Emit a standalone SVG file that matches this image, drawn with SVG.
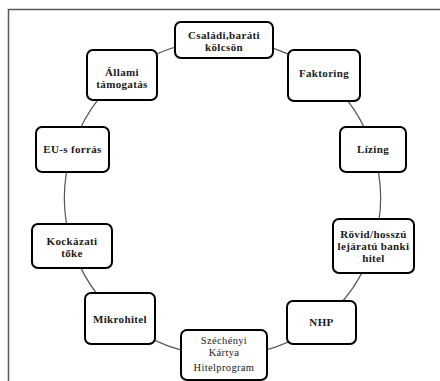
<svg xmlns="http://www.w3.org/2000/svg" width="440" height="381" viewBox="0 0 440 381">
<style>
.frame{fill:none;stroke:#5a5a5a;stroke-width:1.5}
.box{fill:#fff;stroke:#000;stroke-width:2}
.con{fill:none;stroke:#555;stroke-width:1.2}
text{font-family:"Liberation Serif","Times New Roman",serif;font-size:11px;font-weight:bold;fill:#1a1a1a;text-anchor:middle;letter-spacing:0.35px}
text.n{font-weight:normal;font-size:10.5px}
</style>
<rect width="440" height="381" fill="#fff"/>
<path class="frame" d="M8.5,381 V9.5 H440"/>
<g id="connectors">
<path class="con" d="M224,40.5 A157.5,157.5 0 0 1 324,76"/>
<path class="con" d="M324,76 A157.5,157.5 0 0 1 373,150"/>
<path class="con" d="M373,150 A157.5,157.5 0 0 1 373,246"/>
<path class="con" d="M373,246 A157.5,157.5 0 0 1 321,322"/>
<path class="con" d="M321,322 A157.5,157.5 0 0 1 224,355.5"/>
<path class="con" d="M224,355.5 A157.5,157.5 0 0 1 120,318"/>
<path class="con" d="M120,318 A157.5,157.5 0 0 1 72,246"/>
<path class="con" d="M72,246 A157.5,157.5 0 0 1 72,150"/>
<path class="con" d="M72,150 A157.5,157.5 0 0 1 122,75"/>
<path class="con" d="M122,75 A157.5,157.5 0 0 1 224,40.5"/>
</g>
<g id="csaladi">
<rect class="box" x="175" y="22" width="98" height="36" rx="6"/>
<text x="224" y="39">Családi,baráti</text>
<text x="224" y="50.5">kölcsön</text>
</g>
<g id="faktoring">
<rect class="box" x="288" y="50" width="72" height="51" rx="6"/>
<text x="324" y="76.5">Faktoring</text>
</g>
<g id="allami">
<rect class="box" x="87" y="50" width="70" height="50" rx="6"/>
<text x="122" y="76">Állami</text>
<text x="122" y="88">támogatás</text>
</g>
<g id="eu">
<rect class="box" x="36" y="127" width="73" height="45" rx="6"/>
<text x="72.5" y="153">EU-s forrás</text>
</g>
<g id="lizing">
<rect class="box" x="340" y="127" width="66" height="45" rx="6"/>
<text x="373" y="153">Lízing</text>
</g>
<g id="kockazati">
<rect class="box" x="32" y="224" width="80" height="44" rx="6"/>
<text x="72" y="244.5">Kockázati</text>
<text x="72" y="256.5">tőke</text>
</g>
<g id="rovid">
<rect class="box" x="333" y="219" width="81" height="54" rx="6"/>
<text x="373.5" y="238">Rövid/hosszú</text>
<text x="373.5" y="250">lejáratú banki</text>
<text x="373.5" y="262">hitel</text>
</g>
<g id="mikrohitel">
<rect class="box" x="85" y="293" width="70" height="51" rx="6"/>
<text x="120" y="323">Mikrohitel</text>
</g>
<g id="nhp">
<rect class="box" x="287" y="301" width="69" height="43" rx="6"/>
<text x="321.5" y="326">NHP</text>
</g>
<g id="szechenyi">
<rect class="box" x="181" y="330" width="86" height="50" rx="6"/>
<text class="n" x="224" y="344">Széchényi</text>
<text class="n" x="224" y="356">Kártya</text>
<text class="n" x="224" y="371">Hitelprogram</text>
</g>
</svg>
